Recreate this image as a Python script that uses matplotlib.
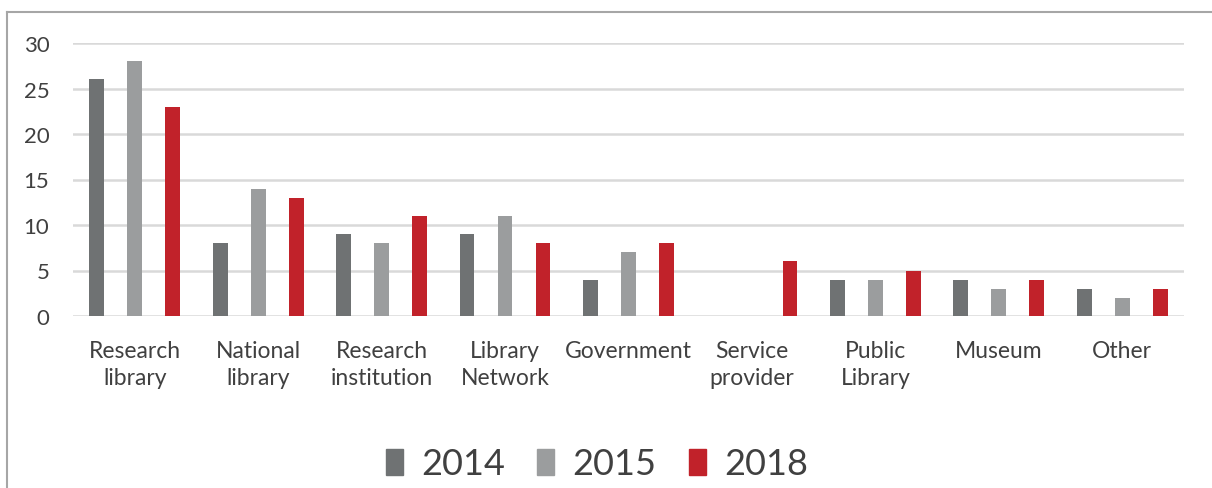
import matplotlib
matplotlib.use("Agg")
import matplotlib.pyplot as plt
from matplotlib.lines import Line2D
from matplotlib.patches import Patch
import numpy as np

plt.rcParams['font.family'] = ['Lato', 'DejaVu Sans']

categories = ["Research\nlibrary", "National\nlibrary", "Research\ninstitution", "Library\nNetwork",
              "Government", "Service\nprovider", "Public\nLibrary", "Museum", "Other"]
years = ["2014", "2015", "2018"]
v2014 = [26, 8, 9, 9, 4, 0, 4, 4, 3]
v2015 = [28, 14, 8, 11, 7, 0, 4, 3, 2]
v2018 = [23, 13, 11, 8, 8, 6, 5, 4, 3]
yticks = [0, 5, 10, 15, 20, 25, 30]

colors = ["#6f7273", "#9b9d9e", "#c1222a"]

fig = plt.figure(figsize=(12.12, 4.89), dpi=100)
ax = fig.add_axes([73/1212, 1 - 317/489, (1184-73)/1212, (317-44)/489])

x = np.arange(len(categories))
offs = [-0.308, 0.0, 0.308]
for vals, c, o, yr in zip([v2014, v2015, v2018], colors, offs, years):
    ax.bar(x + o, vals, width=0.12, color=c, label=yr, zorder=3)

ax.set_xlim(-0.5, len(categories) - 0.5)
ax.set_ylim(0, 30)
ax.set_yticks(yticks)
ax.set_xticks(x)
ax.set_xticklabels(categories, fontsize=16.5, color="#404040", linespacing=1.35)
ax.tick_params(axis='y', labelsize=16, labelcolor="#404040", length=0, pad=17)
ax.tick_params(axis='x', length=0, pad=17)
ax.grid(axis='y', color="#d9d9d9", linewidth=1.8, zorder=0)
for s in ax.spines.values():
    s.set_visible(False)

handles = [Patch(color=c) for c in colors]
fig.legend(handles, years, loc='center', bbox_to_anchor=(597/1212, 1 - 465/489),
           ncol=3, frameon=False, fontsize=26, handlelength=0.47, handleheight=0.75,
           handletextpad=0.5, columnspacing=0.9, labelcolor="#404040")

fig.add_artist(Line2D([7/1212, 1], [1 - 13/489, 1 - 13/489], color="#a6a6a6", linewidth=1.5))
fig.add_artist(Line2D([7/1212, 7/1212], [0, 1 - 13/489], color="#a6a6a6", linewidth=1.5))

fig.savefig("out.png", dpi=100)
